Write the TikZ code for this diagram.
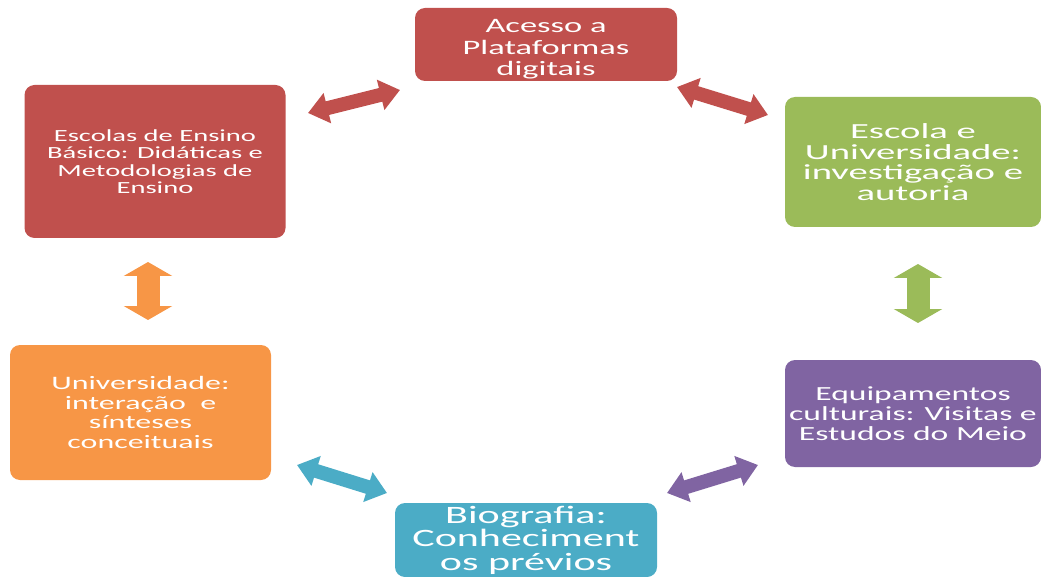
\documentclass[tikz,border=0pt]{standalone}
\usepackage{fontspec}
\setmainfont{Carlito}
\newfontfamily\boxfont[FakeStretch=1.68]{Carlito}
\newfontfamily\wideboxfont[FakeStretch=1.8]{Carlito}
\usepackage{xcolor}
\usetikzlibrary{arrows.meta}
\definecolor{accred}{HTML}{C0504D}
\definecolor{accgreen}{HTML}{9BBB59}
\definecolor{accorange}{HTML}{F79646}
\definecolor{accpurple}{HTML}{8064A2}
\definecolor{accaqua}{HTML}{4BACC6}

\begin{document}
\begin{tikzpicture}[
  x=1pt, y=-1pt,
  card/.style={rectangle, rounded corners=10pt, draw=none, align=center, text=white, inner sep=0pt},
  slant/.style={line width=14pt, {Triangle[length=20pt,width=30pt]}-{Triangle[length=20pt,width=30pt]}},
  upright/.style={line width=23pt, {Triangle[length=14pt,width=48pt]}-{Triangle[length=14pt,width=48pt]}}
]
\useasboundingbox (0,0) rectangle (1041,577);

\node[card, fill=accred, minimum width=262pt, minimum height=73pt, font={\boxfont\fontsize{20.5}{21.5}\selectfont}] (acesso) at (546,44.5) {\rule{0pt}{23pt}Acesso a\\Plataformas\\digitais};
\node[card, fill=accred, minimum width=261pt, minimum height=153pt, font={\boxfont\fontsize{17}{17.5}\selectfont}] (escolas) at (155,161.5) {Escolas de Ensino\\Básico: Didáticas e\\Metodologias de\\Ensino};
\node[card, fill=accgreen, minimum width=256pt, minimum height=130pt, font={\wideboxfont\fontsize{21.5}{20.5}\selectfont}] (univ) at (913,162) {Escola e\\Universidade:\\investigação e\\autoria};
\node[card, fill=accorange, minimum width=261pt, minimum height=135pt, font={\boxfont\fontsize{19}{19.5}\selectfont}] (interacao) at (140.5,412.5) {Universidade:\\interação\ \ e\\sínteses\\conceituais};
\node[card, fill=accpurple, minimum width=256pt, minimum height=107pt, font={\boxfont\fontsize{20}{20}\selectfont}] (equip) at (913,413.5) {Equipamentos\\culturais: Visitas e\\Estudos do Meio};
\node[card, fill=accaqua, minimum width=262pt, minimum height=74pt, font={\boxfont\fontsize{25}{23.5}\selectfont}] (bio) at (526,540) {Biografia:\\Conheciment\\os prévios};

\coordinate (a1) at (308,113);
\coordinate (a2) at (400,90);
\coordinate (b1) at (677,87);
\coordinate (b2) at (768,115);
\coordinate (c1) at (148,262);
\coordinate (c2) at (148,320);
\coordinate (d1) at (918,264);
\coordinate (d2) at (918,323);
\coordinate (e1) at (297,465);
\coordinate (e2) at (387,493);
\coordinate (f1) at (667,493);
\coordinate (f2) at (758,465);

\draw[slant, accred] (a1) -- (a2);
\draw[slant, accred] (b1) -- (b2);
\draw[upright, accorange] (c1) -- (c2);
\draw[upright, accgreen] (d1) -- (d2);
\draw[slant, accaqua] (e1) -- (e2);
\draw[slant, accpurple] (f1) -- (f2);
\end{tikzpicture}
\end{document}
